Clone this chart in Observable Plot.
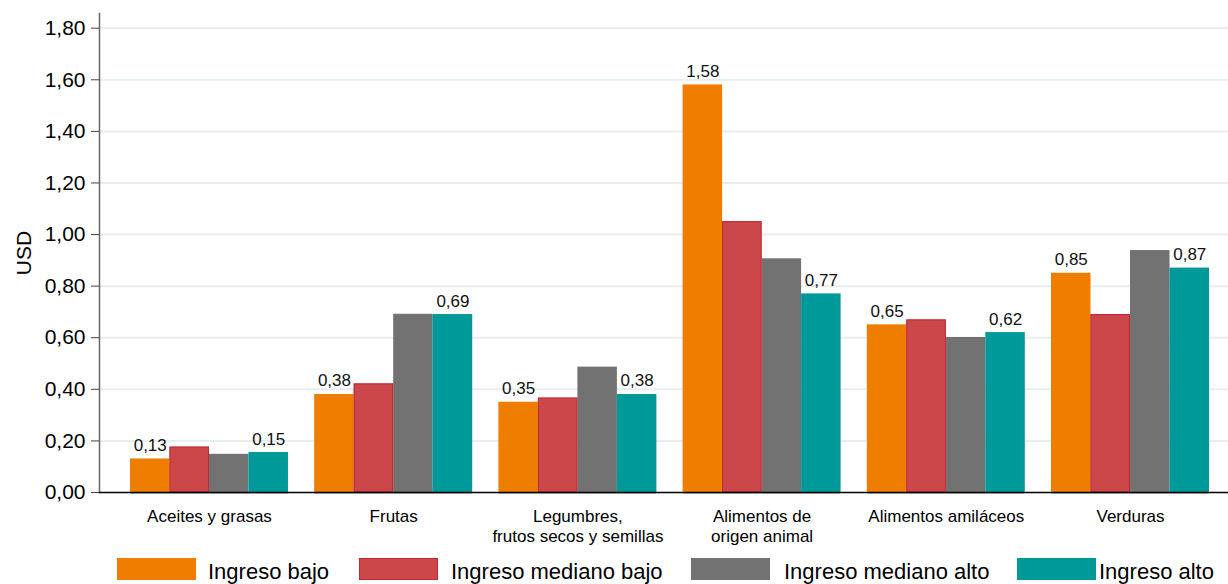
<!DOCTYPE html>
<html><head><meta charset="utf-8">
<script src="https://cdn.jsdelivr.net/npm/d3@7"></script>
<script src="https://cdn.jsdelivr.net/npm/@observablehq/plot@0.6"></script>
<style>
body{margin:0;background:#fff;font-family:"Liberation Sans",Arial,sans-serif;}
#wrap{position:relative;width:1228px;height:584px;overflow:hidden;}
#chart{position:relative;width:1228px;height:548px;}
#chart svg{position:absolute;left:0;top:0;}
#legend{position:relative;width:1228px;height:36px;}
.sw{position:absolute;top:10px;width:79px;height:22px;box-sizing:border-box;}
.lt{position:absolute;top:13px;font-size:22px;line-height:22px;color:#000;white-space:nowrap;}
</style></head><body>
<div id="wrap"><div id="chart"></div><div id="legend"></div></div>
<script>
const categories = ["Aceites y grasas", "Frutas", "Legumbres,\nfrutos secos y semillas", "Alimentos de\norigen animal", "Alimentos amiláceos", "Verduras"];
const series = ["Ingreso bajo", "Ingreso mediano bajo", "Ingreso mediano alto", "Ingreso alto"];
const ingresoBajo = [0.13, 0.38, 0.35, 1.58, 0.65, 0.85];
const ingresoMedianoBajo = [0.176, 0.421, 0.366, 1.05, 0.669, 0.69];
const ingresoMedianoAlto = [0.148, 0.691, 0.486, 0.906, 0.601, 0.938];
const ingresoAlto = [0.155, 0.69, 0.38, 0.77, 0.62, 0.87];
const yTicks = [0, 0.2, 0.4, 0.6, 0.8, 1.0, 1.2, 1.4, 1.6, 1.8];
const labeledSeries = ["Ingreso bajo", "Ingreso alto"];
const colors = ["#EE7D00", "#CB474A", "#727272", "#00999A"];
const redStroke = "#C22A30";

const seriesValues = [ingresoBajo, ingresoMedianoBajo, ingresoMedianoAlto, ingresoAlto];
const data = [];
categories.forEach((c, i) => series.forEach((s, j) => data.push({cat: c, series: s, value: seriesValues[j][i]})));
const fmt = v => d3.format(".2f")(v).replace(".", ",");

const common = {
  width: 1228, height: 548,
  marginLeft: 99, marginRight: 0, marginTop: 13, marginBottom: 56,
  style: {fontFamily: "'Liberation Sans', Arial, sans-serif", background: "transparent", color: "#000"},
  y: {domain: [0, 1.857], axis: null}
};

// background layer: grid and axes
const back = Plot.plot({
  ...common,
  marks: [
    Plot.gridY(yTicks.slice(1), {stroke: "#E6EEF2", strokeOpacity: 1, strokeWidth: 2}),
    Plot.frame({anchor: "left", stroke: "#666", strokeWidth: 1.5}),
    Plot.axisY(yTicks, {tickSize: 8, tickPadding: 6, tickFormat: fmt, fontSize: 21, stroke: "#444", label: "USD", labelAnchor: "center", labelArrow: "none", labelOffset: 83}),
    Plot.frame({anchor: "bottom", stroke: "#000", strokeWidth: 1.5})
  ]
});

// bars layer
const bars = Plot.plot({
  ...common,
  fx: {domain: categories, paddingInner: 0.1422, paddingOuter: 0.1356, align: 0.62, round: false, label: null},
  x: {domain: series, axis: null, padding: 0, round: false},
  color: {domain: series, range: colors},
  marks: [
    Plot.barY(data, {fx: "cat", x: "series", y: "value", fill: "series", inset: 0}),
    Plot.barY(data.filter(d => d.series === series[1]), {fx: "cat", x: "series", y: "value", fill: "none", stroke: redStroke, strokeWidth: 1, inset: 0.5}),
    Plot.ruleY([0], {stroke: "#000", strokeWidth: 1.5}),
    Plot.text(data.filter(d => labeledSeries.includes(d.series)), {fx: "cat", x: "series", y: "value", text: d => fmt(d.value), dy: -8, lineAnchor: "bottom", fontSize: 17, fill: "#111"}),
    Plot.axisFx({anchor: "bottom", tickSize: 0, tickPadding: 15, fontSize: 17, lineHeight: 1.2, label: null})
  ]
});
const chartDiv = document.getElementById("chart");
chartDiv.appendChild(back);
chartDiv.appendChild(bars);

const legend = document.getElementById("legend");
const swLeft = [117, 359, 691, 1017];
const txLeft = [208, 451, 784, 1099];
series.forEach((s, i) => {
  const sw = document.createElement("div");
  sw.className = "sw";
  sw.style.left = swLeft[i] + "px";
  sw.style.background = colors[i];
  if (i === 1) sw.style.border = "1px solid " + redStroke;
  legend.appendChild(sw);
  const t = document.createElement("div");
  t.className = "lt";
  t.style.left = txLeft[i] + "px";
  t.textContent = s;
  legend.appendChild(t);
});
</script>
</body></html>
